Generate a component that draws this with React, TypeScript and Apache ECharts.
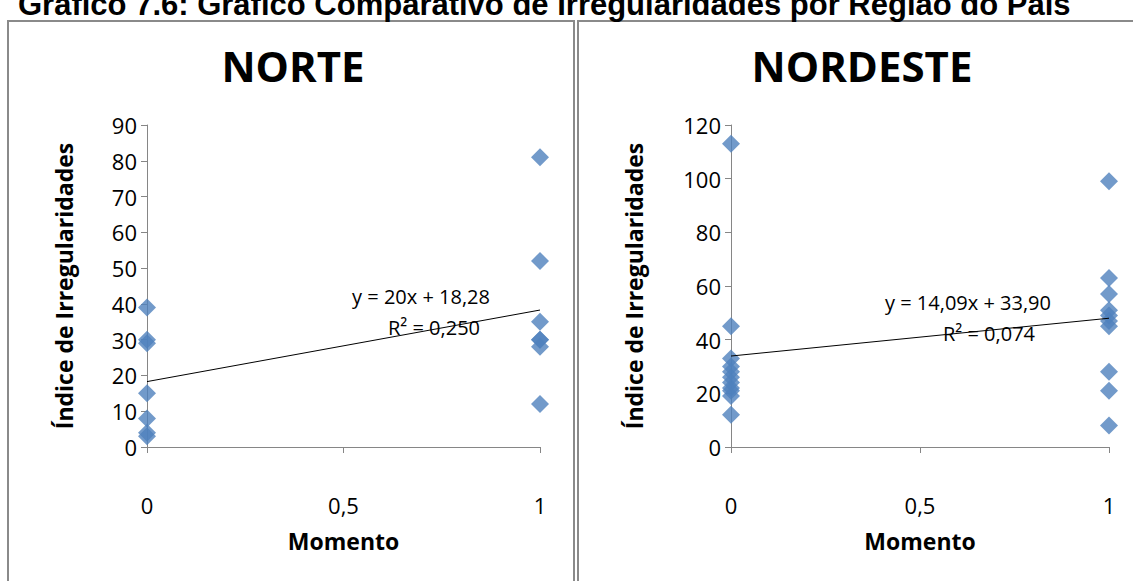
import React, { useEffect, useRef } from "react";
import * as echarts from "echarts";

const mainTitle = "Gráfico 7.6: Gráfico Comparativo de Irregularidades por Região do País";
const panelTitles = ["NORTE", "NORDESTE"];
const xAxisName = "Momento";
const yAxisName = "Índice de Irregularidades";

const norteMoment0 = [39, 30, 29, 15, 8, 4, 3];
const norteMoment1 = [81, 52, 35, 30, 30, 28, 12];
const nordesteMoment0 = [113, 45, 33, 30, 28, 26, 24, 22, 21, 19, 12];
const nordesteMoment1 = [99, 63, 57, 51, 49, 47, 45, 28, 21, 8];

const norteTrend = { slope: 20, intercept: 18.28 };
const nordesteTrend = { slope: 14.09, intercept: 33.9 };
const norteEq = ["y = 20x + 18,28", "R² = 0,250"];
const nordesteEq = ["y = 14,09x + 33,90", "R² = 0,074"];

const yMax = [90, 120];
const yInterval = [10, 20];

const FONT = "'Open Sans', Lato, sans-serif";
const BLUE = "#4F81BD";
const AXIS = "#868686";

function pts(x: number, arr: number[]) {
  return arr.map((v) => [x, v]);
}

export default function App() {
  const ref = useRef<HTMLDivElement>(null);
  useEffect(() => {
    document.body.style.margin = "0";
    const chart = echarts.init(ref.current!, null, { renderer: "svg" });
    const grids = [
      { left: 147, top: 125, width: 393, height: 322 },
      { left: 731, top: 125, width: 378, height: 322 },
    ];
    const xAxes = [0, 1].map((i) => ({
      type: "value",
      gridIndex: i,
      min: 0,
      max: 1,
      interval: 0.5,
      axisLine: { lineStyle: { color: AXIS, width: 1 } },
      axisTick: { show: true, length: 6, lineStyle: { color: AXIS } },
      splitLine: { show: false },
      axisLabel: {
        color: "#000",
        fontSize: 22,
        fontFamily: FONT,
        margin: 47,
        formatter: (v: number) => String(v).replace(".", ","),
      },
      name: xAxisName,
      nameLocation: "middle",
      nameGap: 82,
      nameTextStyle: { color: "#000", fontSize: 23, fontWeight: "bold", fontFamily: FONT },
    }));
    const yAxes = [0, 1].map((i) => ({
      type: "value",
      gridIndex: i,
      min: 0,
      max: yMax[i],
      interval: yInterval[i],
      axisLine: { show: true, lineStyle: { color: AXIS, width: 1 } },
      axisTick: { show: true, length: 6, lineStyle: { color: AXIS } },
      splitLine: { show: false },
      axisLabel: { color: "#000", fontSize: 22, fontFamily: FONT, margin: 10 },
      name: yAxisName,
      nameLocation: "middle",
      nameGap: i === 0 ? 72 : 86,
      nameRotate: 90,
      nameTextStyle: { color: "#000", fontSize: 23, fontWeight: "bold", fontFamily: FONT },
    }));
    const scatter = (i: number, data: number[][]) => ({
      type: "scatter",
      xAxisIndex: i,
      yAxisIndex: i,
      symbol: "diamond",
      symbolSize: 18,
      itemStyle: { color: BLUE },
      data,
    });
    const trend = (i: number, t: { slope: number; intercept: number }) => ({
      type: "line",
      xAxisIndex: i,
      yAxisIndex: i,
      symbol: "none",
      lineStyle: { color: "#000", width: 1 },
      data: [
        [0, t.intercept],
        [1, t.intercept + t.slope],
      ],
      z: 3,
    });
    const txt = (x: number, y: number, text: string, size: number, bold: boolean, family = FONT, align = "center") => ({
      type: "text",
      x,
      y,
      style: {
        text,
        fontSize: size,
        fontWeight: bold ? "bold" : "normal",
        fontFamily: family,
        fill: "#000",
        align,
        verticalAlign: "middle",
      },
      z: 10,
    });
    chart.setOption({
      animation: false,
      grid: grids,
      xAxis: xAxes,
      yAxis: yAxes,
      series: [
        scatter(0, [...pts(0, norteMoment0), ...pts(1, norteMoment1)]),
        scatter(1, [...pts(0, nordesteMoment0), ...pts(1, nordesteMoment1)]),
        trend(0, norteTrend),
        trend(1, nordesteTrend),
      ],
      graphic: [
        { type: "rect", shape: { x: 8, y: 21, width: 566, height: 600 }, style: { fill: "none", stroke: "#8a8a8a", lineWidth: 2 } },
        { type: "rect", shape: { x: 578, y: 21, width: 600, height: 600 }, style: { fill: "none", stroke: "#8a8a8a", lineWidth: 2 } },
        txt(18, 4, mainTitle, 31, true, "'Liberation Sans', Arial, sans-serif", "left"),
        txt(293, 65, panelTitles[0], 42, true),
        txt(862, 65, panelTitles[1], 42, true),
        txt(421, 296, norteEq[0], 20, false),
        txt(434, 327, norteEq[1], 20, false),
        txt(968, 302, nordesteEq[0], 20, false),
        txt(989, 333, nordesteEq[1], 20, false),
      ],
    });
    return () => chart.dispose();
  }, []);
  return <div ref={ref} style={{ width: 1133, height: 581 }} />;
}
